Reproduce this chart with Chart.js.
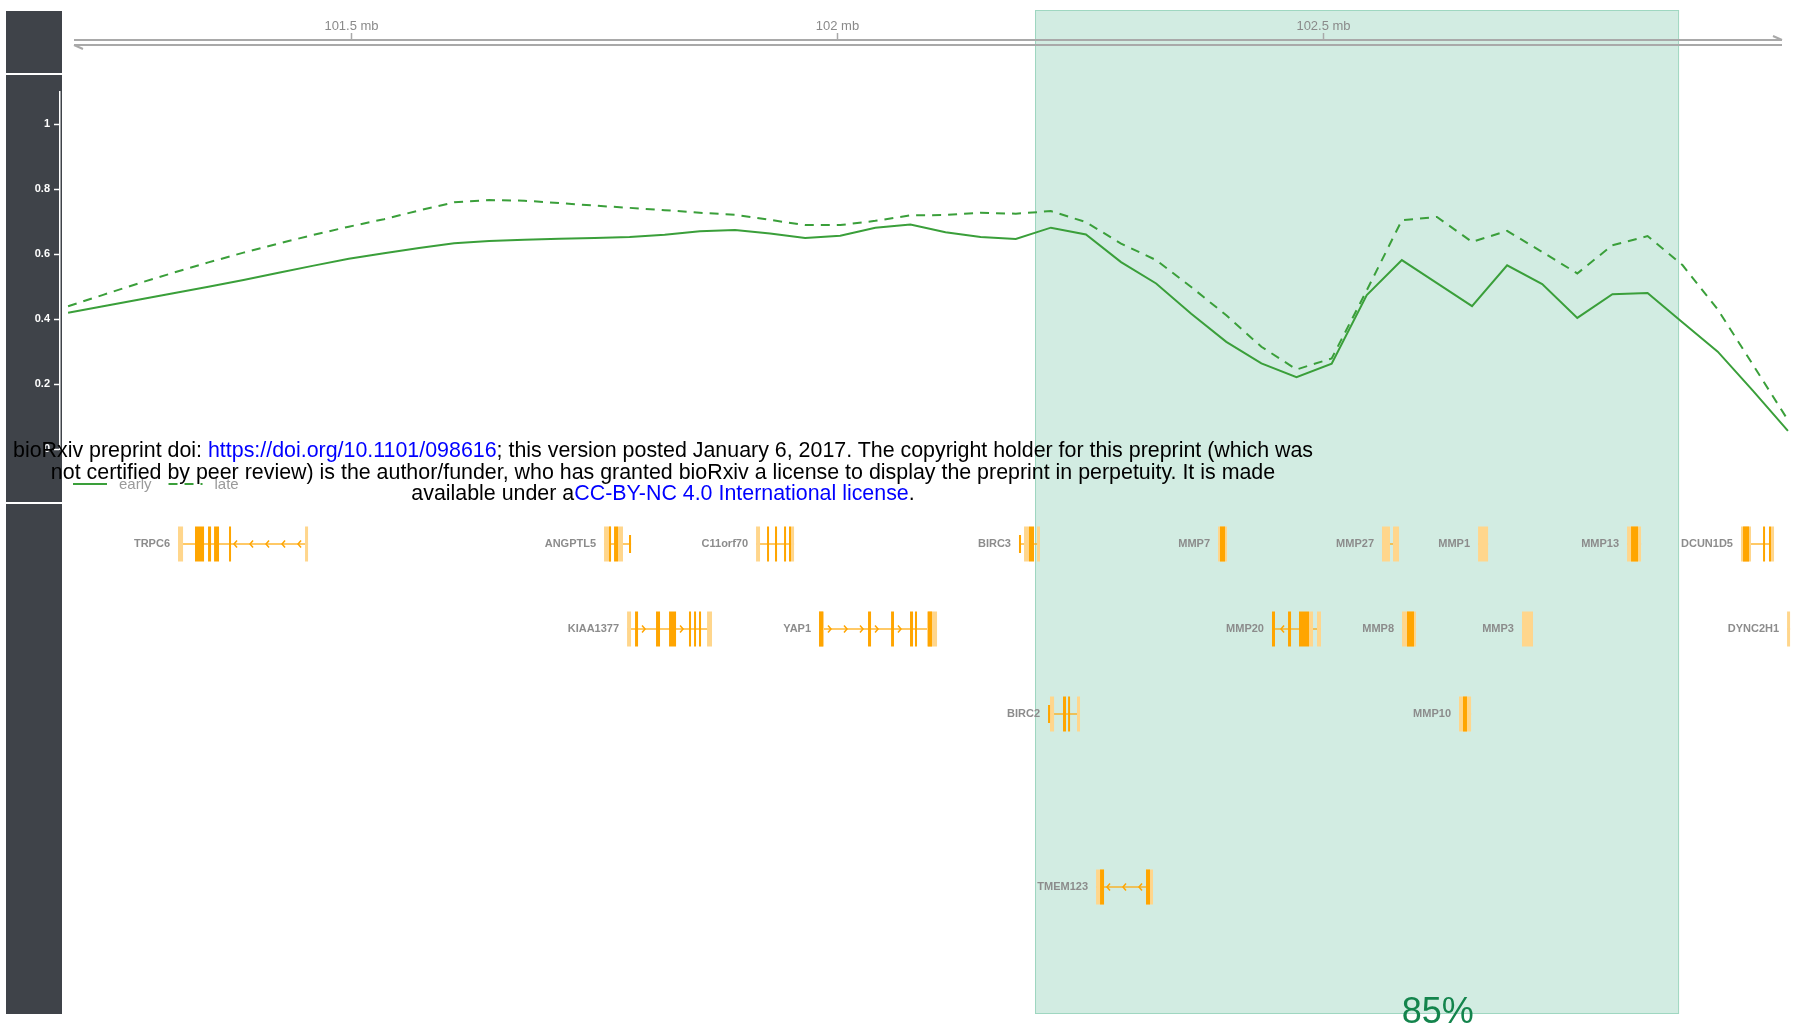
<!DOCTYPE html>
<html>
<head>
<meta charset="utf-8">
<script src="https://cdn.jsdelivr.net/npm/chart.js@4"></script>
<style>
  html, body { margin: 0; padding: 0; background: #fff; }
  #wrap { position: relative; width: 1801px; height: 1031px; overflow: hidden; }
  #c { position: absolute; left: 0; top: 0; width: 1801px; height: 1031px; }
  #note {
    position: absolute; left: 0; top: 440px; width: 1326px;
    text-align: center; white-space: nowrap; color: #000;
    font: 21.4px "Liberation Sans", Arial, sans-serif; line-height: 21.5px;
  }
  #note a { color: #0000ff; text-decoration: none; }
</style>
</head>
<body>
<div id="wrap">
  <canvas id="c" width="1801" height="1031"></canvas>
  <div id="note">bioRxiv preprint doi: <a>https://doi.org/10.1101/098616</a>; this version posted January 6, 2017. The copyright holder for this preprint (which was<br>not certified by peer review) is the author/funder, who has granted bioRxiv a license to display the preprint in perpetuity. It is made<br>available under a<a>CC-BY-NC 4.0 International license</a>.</div>
</div>
<script>
// Window centres along chr11 (Mb)
const positionsMb = [
  101.2089, 101.2450, 101.2811, 101.3172, 101.3533, 101.3894, 101.4255, 101.4616, 101.4977, 101.5339,
  101.5700, 101.6061, 101.6422, 101.6783, 101.7144, 101.7505, 101.7866, 101.8227, 101.8589, 101.8950,
  101.9311, 101.9672, 102.0033, 102.0394, 102.0755, 102.1116, 102.1477, 102.1839, 102.2200, 102.2561,
  102.2922, 102.3283, 102.3644, 102.4005, 102.4366, 102.4727, 102.5089, 102.5450, 102.5811, 102.6172,
  102.6533, 102.6894, 102.7255, 102.7616, 102.7977, 102.8339, 102.8700, 102.9061, 102.9422, 102.9783
];
const early = [
  0.420, 0.440, 0.460, 0.480, 0.500, 0.521, 0.543, 0.565, 0.586, 0.603,
  0.619, 0.634, 0.641, 0.645, 0.648, 0.650, 0.653, 0.660, 0.671, 0.675,
  0.664, 0.650, 0.657, 0.682, 0.692, 0.668, 0.653, 0.647, 0.682, 0.661,
  0.576, 0.510, 0.417, 0.330, 0.264, 0.221, 0.263, 0.474, 0.582, 0.511,
  0.440, 0.566, 0.508, 0.404, 0.477, 0.481, 0.390, 0.300, 0.180, 0.056
];
const late = [
  0.440, 0.475, 0.510, 0.543, 0.575, 0.605, 0.633, 0.660, 0.685, 0.708,
  0.735, 0.760, 0.767, 0.765, 0.758, 0.750, 0.743, 0.736, 0.728, 0.722,
  0.706, 0.690, 0.690, 0.703, 0.720, 0.721, 0.728, 0.725, 0.733, 0.699,
  0.633, 0.582, 0.499, 0.412, 0.315, 0.245, 0.279, 0.489, 0.705, 0.715,
  0.638, 0.672, 0.607, 0.541, 0.628, 0.656, 0.566, 0.430, 0.260, 0.089
];
const seriesNames = ['early', 'late'];
const rulerTicksMb = [101.5, 102, 102.5];
const regionMb = [102.2037, 102.8663];
const regionLabel = '85%';
const regionLabelMb = 102.618;

// Gene models: coordinates in Mb; utr = light blocks, cds = coding blocks, thin = narrow coding blocks
const genes = [
  { name: 'TRPC6', row: 0, strand: '-', start: 101.3220, end: 101.4558,
    utr: [[101.3220, 101.3272], [101.4527, 101.4558]],
    cds: [[101.3395, 101.3488], [101.3529, 101.3560], [101.3591, 101.3642], [101.3745, 101.3765]] },
  { name: 'ANGPTL5', row: 0, strand: '', start: 101.7603, end: 101.7881,
    utr: [[101.7603, 101.7675], [101.7747, 101.7798]],
    cds: [[101.7654, 101.7675], [101.7706, 101.7747]], thin: [[101.7860, 101.7881]] },
  { name: 'C11orf70', row: 0, strand: '', start: 101.9167, end: 101.9558,
    utr: [[101.9167, 101.9208], [101.9527, 101.9558]],
    cds: [[101.9280, 101.9300], [101.9362, 101.9383], [101.9455, 101.9475], [101.9506, 101.9527]] },
  { name: 'BIRC3', row: 0, strand: '', start: 102.1872, end: 102.2088,
    utr: [[102.1924, 102.1975], [102.2058, 102.2088]],
    cds: [[102.1975, 102.2027]], thin: [[102.1872, 102.1893]] },
  { name: 'MMP7', row: 0, strand: '', start: 102.3920, end: 102.4012,
    utr: [[102.3920, 102.4012]], cds: [[102.3940, 102.3992]] },
  { name: 'MMP27', row: 0, strand: '', start: 102.5607, end: 102.5782,
    utr: [[102.5607, 102.5689], [102.5720, 102.5782]], cds: [] },
  { name: 'MMP1', row: 0, strand: '', start: 102.6595, end: 102.6698,
    utr: [[102.6595, 102.6698]], cds: [] },
  { name: 'MMP13', row: 0, strand: '', start: 102.8128, end: 102.8272,
    utr: [[102.8128, 102.8272]], cds: [[102.8169, 102.8241]] },
  { name: 'DCUN1D5', row: 0, strand: '', start: 102.9300, end: 102.9640,
    utr: [[102.9300, 102.9403], [102.9609, 102.9640]],
    cds: [[102.9321, 102.9383], [102.9527, 102.9547], [102.9588, 102.9609]] },

  { name: 'KIAA1377', row: 1, strand: '+', start: 101.7840, end: 101.8714,
    utr: [[101.7840, 101.7881], [101.8663, 101.8714]],
    cds: [[101.7922, 101.7953], [101.8138, 101.8179], [101.8272, 101.8344], [101.8477, 101.8498],
          [101.8529, 101.8549], [101.8580, 101.8601]] },
  { name: 'YAP1', row: 1, strand: '+', start: 101.9815, end: 102.1029,
    utr: [[101.9815, 101.9866], [102.0926, 102.1029]],
    cds: [[101.9815, 101.9856], [102.0319, 102.0350], [102.0556, 102.0586], [102.0751, 102.0782],
          [102.0802, 102.0823], [102.0936, 102.0977]] },
  { name: 'MMP20', row: 1, strand: '-', start: 102.4475, end: 102.4979,
    utr: [[102.4856, 102.4897], [102.4938, 102.4979]],
    cds: [[102.4475, 102.4506], [102.4640, 102.4671], [102.4753, 102.4856]] },
  { name: 'MMP8', row: 1, strand: '', start: 102.5813, end: 102.5957,
    utr: [[102.5813, 102.5957]], cds: [[102.5864, 102.5936]] },
  { name: 'MMP3', row: 1, strand: '', start: 102.7047, end: 102.7160,
    utr: [[102.7047, 102.7160]], cds: [] },
  { name: 'DYNC2H1', row: 1, strand: '', start: 102.9774, end: 102.9805,
    utr: [[102.9774, 102.9805]], cds: [] },

  { name: 'BIRC2', row: 2, strand: '', start: 102.2171, end: 102.2500,
    utr: [[102.2191, 102.2233], [102.2469, 102.2500]],
    cds: [[102.2325, 102.2356], [102.2377, 102.2397]], thin: [[102.2171, 102.2191]] },
  { name: 'MMP10', row: 2, strand: '', start: 102.6399, end: 102.6523,
    utr: [[102.6399, 102.6523]], cds: [[102.6440, 102.6481]] },

  { name: 'TMEM123', row: 4, strand: '-', start: 102.2665, end: 102.3251,
    utr: [[102.2665, 102.2747], [102.3179, 102.3251]],
    cds: [[102.2706, 102.2747], [102.3179, 102.3220]] }
];

// Visible genomic window of the plot
const X_MIN = 101.2006, X_MAX = 102.9866;

const LINE_GREEN = '#3a9f3a';
const FONT = '"Liberation Sans", Arial, Helvetica, sans-serif';
const ROW_Y = [544, 629, 714, 800, 887];
const EXON_H = 35, THIN_H = 18;

function gapsOf(g, px) {
  const blocks = [].concat(g.utr || [], g.cds || [], g.thin || [])
    .map(b => [px(b[0]), px(b[1])]).sort((a, b) => a[0] - b[0]);
  const merged = [];
  blocks.forEach(b => {
    const last = merged[merged.length - 1];
    if (last && b[0] <= last[1]) last[1] = Math.max(last[1], b[1]);
    else merged.push([b[0], b[1]]);
  });
  const gaps = [];
  for (let i = 1; i < merged.length; i++) gaps.push([merged[i - 1][1], merged[i][0]]);
  return gaps;
}

const tracks = {
  id: 'tracks',
  beforeDraw(chart) {
    const c = chart.ctx, xs = chart.scales.x;
    c.save();
    c.fillStyle = '#3f4349';
    c.fillRect(6, 11, 56, 62);
    c.fillRect(6, 75, 56, 427);
    c.fillRect(6, 504, 56, 510);
    const h0 = xs.getPixelForValue(regionMb[0]);
    const h1 = xs.getPixelForValue(regionMb[1]);
    c.fillStyle = 'rgba(32,160,110,0.2)';
    c.fillRect(h0, 10, h1 - h0, 1004);
    c.strokeStyle = 'rgba(40,165,115,0.3)';
    c.lineWidth = 1;
    c.strokeRect(h0 + 0.5, 10.5, h1 - h0 - 1, 1003);
    c.restore();
  },
  afterDatasetsDraw(chart) {
    const c = chart.ctx, xs = chart.scales.x, area = chart.chartArea;
    const px = v => xs.getPixelForValue(v);
    c.save();

    // genomic ruler
    const rl = area.left + 14, rr = area.right - 14;
    c.strokeStyle = '#a9a9a9';
    c.lineWidth = 2;
    c.beginPath();
    c.moveTo(rl, 40); c.lineTo(rr, 40);
    c.moveTo(rl, 45); c.lineTo(rr, 45);
    c.moveTo(rl, 45); c.lineTo(rl + 9, 49);
    c.moveTo(rr, 40); c.lineTo(rr - 9, 36);
    c.stroke();
    c.fillStyle = '#8a8a8a';
    c.font = '13px ' + FONT;
    c.textAlign = 'center';
    c.textBaseline = 'middle';
    rulerTicksMb.forEach(t => {
      const x = Math.round(px(t)) + 0.5;
      c.lineWidth = 1.5;
      c.beginPath(); c.moveTo(x, 33); c.lineTo(x, 40); c.stroke();
      c.fillText(t + ' mb', x, 26);
    });

    // gene models
    genes.forEach(g => {
      const y = ROW_Y[g.row];
      const x0 = px(g.start), x1 = px(g.end);
      c.strokeStyle = 'rgba(255,165,0,0.8)';
      c.lineWidth = 1.5;
      c.beginPath(); c.moveTo(x0, y); c.lineTo(x1, y); c.stroke();
      c.fillStyle = '#ffd68c';
      (g.utr || []).forEach(b => c.fillRect(px(b[0]), y - EXON_H / 2, Math.max(px(b[1]) - px(b[0]), 2), EXON_H));
      c.fillStyle = '#ffa500';
      (g.cds || []).forEach(b => c.fillRect(px(b[0]), y - EXON_H / 2, Math.max(px(b[1]) - px(b[0]), 2), EXON_H));
      (g.thin || []).forEach(b => c.fillRect(px(b[0]), y - THIN_H / 2, Math.max(px(b[1]) - px(b[0]), 2), THIN_H));
      if (g.strand) {
        c.strokeStyle = '#ffa500';
        c.lineWidth = 1.5;
        gapsOf(g, px).forEach(([a, b]) => {
          if (b - a < 12) return;
          const pts = [];
          if (g.strand === '-') { for (let p = b - 7; p > a + 2; p -= 16) pts.push(p); }
          else { for (let p = a + 7; p < b - 2; p += 16) pts.push(p); }
          pts.forEach(p => {
            const d = g.strand === '-' ? 3 : -3;
            c.beginPath();
            c.moveTo(p + d, y - 3.5); c.lineTo(p, y); c.lineTo(p + d, y + 3.5);
            c.stroke();
          });
        });
      }
      c.fillStyle = '#8c8c8c';
      c.font = 'bold 11px ' + FONT;
      c.textAlign = 'right';
      c.textBaseline = 'middle';
      c.fillText(g.name, x0 - 8, y);
    });

    // legend
    let lx = 73;
    const ly = 484;
    c.font = '15px ' + FONT;
    c.textAlign = 'left';
    c.textBaseline = 'middle';
    chart.data.datasets.forEach(ds => {
      c.strokeStyle = ds.borderColor;
      c.lineWidth = 2;
      c.setLineDash(ds.borderDash || []);
      c.beginPath(); c.moveTo(lx, ly); c.lineTo(lx + 34, ly); c.stroke();
      c.setLineDash([]);
      c.fillStyle = '#9a9a9a';
      c.fillText(ds.label, lx + 46, ly + 1);
      lx += 46 + c.measureText(ds.label).width + 17;
    });

    // region score
    c.fillStyle = '#13844c';
    c.font = '36px ' + FONT;
    c.textAlign = 'center';
    c.textBaseline = 'alphabetic';
    c.fillText(regionLabel, px(regionLabelMb), 1023);
    c.restore();
  }
};

new Chart(document.getElementById('c'), {
  type: 'line',
  data: {
    datasets: [
      { label: seriesNames[0], data: positionsMb.map((x, i) => ({ x, y: early[i] })),
        borderColor: LINE_GREEN, borderWidth: 2, pointRadius: 0, tension: 0, fill: false },
      { label: seriesNames[1], data: positionsMb.map((x, i) => ({ x, y: late[i] })),
        borderColor: LINE_GREEN, borderWidth: 2, borderDash: [9, 7], pointRadius: 0, tension: 0, fill: false }
    ]
  },
  options: {
    responsive: false,
    animation: false,
    devicePixelRatio: 1,
    layout: { padding: { left: 0, right: 5, top: 92, bottom: 582 } },
    scales: {
      x: { type: 'linear', min: X_MIN, max: X_MAX, display: false },
      y: {
        min: 0, max: 1.1,
        afterFit(s) { s.width = 60; },
        ticks: { stepSize: 0.2, includeBounds: false, color: '#ffffff', padding: 4,
                 font: { family: FONT, size: 11, weight: 'bold' },
                 callback: v => String(Math.round(v * 10) / 10) },
        grid: { drawOnChartArea: false, tickLength: 6, tickColor: '#ffffff', tickWidth: 1.5, color: '#ffffff' },
        border: { color: '#ffffff', width: 1.5 }
      }
    },
    plugins: { legend: { display: false }, tooltip: { enabled: false } }
  },
  plugins: [tracks]
});
</script>
</body>
</html>
